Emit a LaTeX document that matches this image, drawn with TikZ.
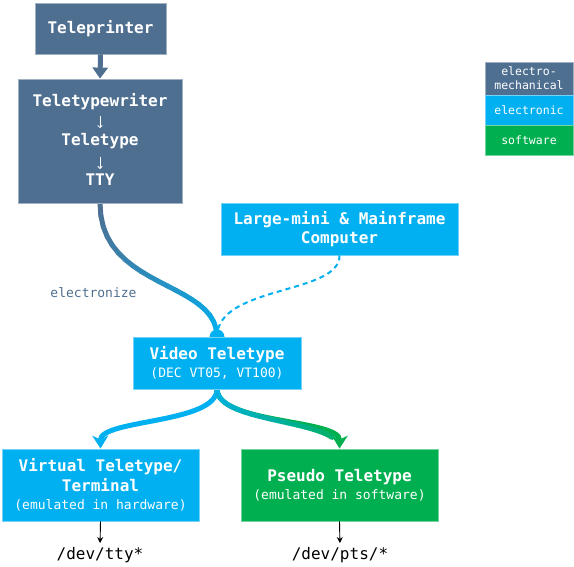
\documentclass[tikz,border=0pt]{standalone}
\usepackage{fontspec}
\setmonofont{DejaVu Sans Mono}
\usetikzlibrary{arrows.meta}
\definecolor{slate}{HTML}{4F6F90}
\definecolor{cyanb}{HTML}{00B0F0}
\definecolor{greenb}{HTML}{00B050}
\newcommand{\ttlfont}{\ttfamily\bfseries\fontsize{16}{20}\selectfont}
\newcommand{\subfont}{\ttfamily\mdseries\fontsize{13}{18}\selectfont}
\newcommand{\lgdfont}{\ttfamily\mdseries\fontsize{11.5}{14}\selectfont}
\newcommand{\devfont}{\ttfamily\mdseries\fontsize{16}{19}\selectfont}
\begin{document}
\begin{tikzpicture}[x=1pt,y=-1pt,
  box/.style={rectangle, inner sep=0pt, draw=#1!55!white, line width=0.8pt, fill=#1, text=white, align=center},
  txt/.style={inner sep=0pt, text=white, font=\ttlfont},
  thick curve/.style={line width=5pt, line cap=round},
  tinyarrow/.style={white, line width=0.8pt, -{To[length=3pt,width=5pt]}},
  devarrow/.style={black, line width=0.9pt, -{Stealth[length=6pt,width=6pt]}},
  bigtip/.style={-{Stealth[length=13pt,width=16pt,inset=4pt]}}
]
\useasboundingbox (0,0) rectangle (574,567);

\node[box=slate, minimum width=164pt, minimum height=124pt] (tw) at (100,141) {};
\node[box=cyanb, minimum width=237pt, minimum height=52pt, font=\ttlfont] (comp) at (339.5,229) {Large-mini \& Mainframe\\[-1pt]Computer};
\path (100.5,485) node[box=cyanb, minimum width=197pt, minimum height=72pt, font=\ttlfont] (virt) {Virtual Teletype/\\Terminal\\[-2pt]{\subfont (emulated in hardware)}};
\path (339.5,485) node[box=greenb, minimum width=197pt, minimum height=72pt, font=\ttlfont] (pseudo) {Pseudo Teletype\\[-2pt]{\subfont (emulated in software)}};
\coordinate (vtn) at (217,337);
\coordinate (vts) at (217,389);

% TTY -> Video Teletype gradient curve
\path (tw.south) .. controls (100,290) and (217,280) .. (vtn)
  coordinate[pos=0] (a0) coordinate[pos=0.05] (a1) coordinate[pos=0.1] (a2)
  coordinate[pos=0.15] (a3) coordinate[pos=0.2] (a4) coordinate[pos=0.25] (a5)
  coordinate[pos=0.3] (a6) coordinate[pos=0.35] (a7) coordinate[pos=0.4] (a8)
  coordinate[pos=0.45] (a9) coordinate[pos=0.5] (a10) coordinate[pos=0.55] (a11)
  coordinate[pos=0.6] (a12) coordinate[pos=0.65] (a13) coordinate[pos=0.7] (a14)
  coordinate[pos=0.75] (a15) coordinate[pos=0.8] (a16) coordinate[pos=0.85] (a17)
  coordinate[pos=0.9] (a18) coordinate[pos=0.95] (a19) coordinate[pos=1] (a20);
\foreach \i in {0,...,19} {
  \pgfmathtruncatemacro\j{\i+1}
  \pgfmathtruncatemacro\p{5*\i+2}
  \draw[thick curve, cyanb!\p!slate] (a\i) -- (a\j);
}

% dashed link
\draw[cyanb, line width=2pt, dash pattern=on 5pt off 4pt] (comp.south) .. controls (340,295) and (217,285) .. (vtn);

% blob
\fill[cyanb] (vtn) circle (7.5pt);

% bottom-left curve
\draw[cyanb, line width=5pt, bigtip] (vts) .. controls (217,424) and (100,419) .. (virt.north);

% bottom-right gradient curve
\draw[greenb, line width=5pt, bigtip] (vts) .. controls (217,424) and (340,419) .. (pseudo.north);
\path (vts) .. controls (217,424) and (340,419) .. (pseudo.north)
  coordinate[pos=0] (b0) coordinate[pos=0.05] (b1) coordinate[pos=0.1] (b2)
  coordinate[pos=0.15] (b3) coordinate[pos=0.2] (b4) coordinate[pos=0.25] (b5)
  coordinate[pos=0.3] (b6) coordinate[pos=0.35] (b7) coordinate[pos=0.4] (b8)
  coordinate[pos=0.45] (b9) coordinate[pos=0.5] (b10) coordinate[pos=0.55] (b11)
  coordinate[pos=0.6] (b12) coordinate[pos=0.65] (b13) coordinate[pos=0.7] (b14)
  coordinate[pos=0.75] (b15) coordinate[pos=0.8] (b16) coordinate[pos=0.85] (b17);
\foreach \i in {0,...,16} {
  \pgfmathtruncatemacro\j{\i+1}
  \pgfmathtruncatemacro\p{5*\i+3}
  \draw[thick curve, greenb!\p!cyanb] (b\i) -- (b\j);
}

% boxes drawn on top
\node[box=slate, minimum width=131pt, minimum height=51pt, font=\ttlfont] (tp) at (100.5,28.5) {Teleprinter};
\node[box=slate, minimum width=164pt, minimum height=124pt] (tw) at (100,141) {};
\node[txt] (tw1) at (100,102) {Teletypewriter};
\node[txt] (tw2) at (100,141) {Teletype};
\node[txt] (tw3) at (100,180) {TTY};
\draw[tinyarrow, shorten <=6pt, shorten >=5pt] (tw1.south) -- (tw2.north);
\draw[tinyarrow, shorten <=8pt, shorten >=5pt] (tw2.south) -- (tw3.north);
\draw[slate, line width=5pt, -{Triangle[length=11pt,width=15pt]}] (tp.south) -- (tw.north);

\node[box=cyanb, minimum width=168pt, minimum height=52pt, font=\ttlfont] (vt) at (217,363) {Video Teletype\\[-2pt]{\subfont (DEC VT05, VT100)}};

\node[inner sep=0pt, font=\subfont, text=slate] (elz) at (93.5,293) {electronize};

% dev nodes
\node[inner sep=0pt, font=\devfont] (dtty) at (100,555) {/dev/tty*};
\node[inner sep=0pt, font=\devfont] (dpts) at (340,555) {/dev/pts/*};
\draw[devarrow, shorten >=4pt] (virt.south) -- (dtty.north);
\draw[devarrow, shorten >=4pt] (pseudo.south) -- (dpts.north);

% legend
\node[box=slate, minimum width=88pt, minimum height=33pt, font=\lgdfont] (lem) at (529,78.5) {electro-\\mechanical};
\node[box=cyanb, minimum width=88pt, minimum height=30pt, font=\lgdfont] (lel) at (529,110) {electronic};
\node[box=greenb, minimum width=88pt, minimum height=30pt, font=\lgdfont] (lsw) at (529,140) {software};
\end{tikzpicture}
\end{document}
